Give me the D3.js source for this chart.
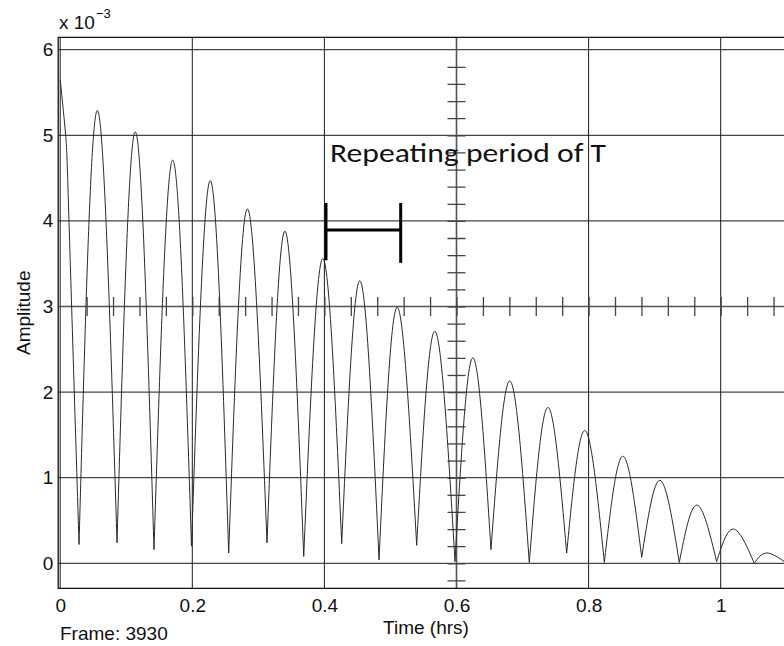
<!DOCTYPE html>
<html>
<head>
<meta charset="utf-8">
<script src="https://cdn.jsdelivr.net/npm/d3@7"></script>
<style>
  body { margin: 0; background: #fff; }
  svg text { font-family: "Liberation Sans", Arial, sans-serif; fill: #111; }
</style>
</head>
<body>
<svg id="chart" width="784" height="646"></svg>
<script>
// values (time in hrs, amplitude in units of 1e-3)
var startTimes = [0, 0.0083, 0.0133];
var startAmps = [5.65, 5.0, 4.0];
var valleyTimes = [0.0285, 0.0860, 0.1420, 0.1988, 0.2551, 0.3131, 0.3687, 0.4262, 0.4827, 0.5397,
  0.5977, 0.6522, 0.7102, 0.7668, 0.8238, 0.8804, 0.9373, 0.9939, 1.0509];
var valleyAmps = [0.22, 0.24, 0.16, 0.20, 0.12, 0.24, 0.08, 0.23, 0.04, 0.21,
  0.02, 0.16, 0.01, 0.12, 0.01, 0.07, 0.01, 0.02, 0.0];
var peakTimes = [0.0562, 0.1137, 0.1703, 0.2273, 0.2833, 0.3404, 0.3974, 0.4539, 0.5099, 0.5675,
  0.6245, 0.6810, 0.7381, 0.7945, 0.8516, 0.9081, 0.9637, 1.0191, 1.0697];
var peakAmps = [5.29, 5.04, 4.71, 4.47, 4.14, 3.88, 3.56, 3.30, 2.99, 2.71,
  2.40, 2.13, 1.82, 1.55, 1.25, 0.97, 0.68, 0.40, 0.12];
var endTime = 1.1, endAmp = 0.0;

var xTicks = [0, 0.2, 0.4, 0.6, 0.8, 1];
var yTicks = [0, 1, 2, 3, 4, 5, 6];
var minorXTicks = d3.range(1, 28).map(function (i) { return +(i * 0.04).toFixed(2); });
var minorYTicks = d3.range(-1, 30).map(function (i) { return +(i * 0.2).toFixed(1); });

var svg = d3.select("#chart");
svg.append("rect").attr("width", 784).attr("height", 646).attr("fill", "#fff");

var x = d3.scaleLinear().domain([0, 1.1]).range([60.2, 60.2 + 1.1 * 660.5]);
var y = d3.scaleLinear().domain([0, 6]).range([563.3, 49.7]);

var plotLeft = x(-0.003), plotRight = 794, plotTop = y(6.145), plotBottom = y(-0.292);

svg.append("clipPath").attr("id", "plotClip")
  .append("rect")
  .attr("x", plotLeft).attr("y", plotTop)
  .attr("width", plotRight - plotLeft).attr("height", plotBottom - plotTop);

// grid
var grid = svg.append("g").attr("clip-path", "url(#plotClip)");
grid.selectAll("line.gx")
  .data(xTicks)
  .enter()
  .append("line")
  .attr("class", "gx")
  .attr("x1", function (d) { return x(d); })
  .attr("x2", function (d) { return x(d); })
  .attr("y1", plotTop).attr("y2", plotBottom)
  .attr("stroke", "#1a1a1a").attr("stroke-width", 1);
grid.selectAll("line.gy")
  .data(yTicks)
  .enter()
  .append("line")
  .attr("class", "gy")
  .attr("x1", plotLeft).attr("x2", plotRight)
  .attr("y1", function (d) { return y(d); })
  .attr("y2", function (d) { return y(d); })
  .attr("stroke", "#1a1a1a").attr("stroke-width", 1);

// crosshair through (0.6, 3) with minor ticks
var cross = svg.append("g").attr("clip-path", "url(#plotClip)");
cross.append("line")
  .attr("x1", x(0.6)).attr("x2", x(0.6)).attr("y1", plotTop).attr("y2", plotBottom)
  .attr("stroke", "#555").attr("stroke-width", 1.6);
cross.append("line")
  .attr("x1", plotLeft).attr("x2", plotRight).attr("y1", y(3)).attr("y2", y(3))
  .attr("stroke", "#555").attr("stroke-width", 1.6);

cross.append("g")
  .attr("transform", "translate(0," + (y(3) - 9.5) + ")")
  .call(d3.axisBottom(x).tickValues(minorXTicks).tickSize(19).tickFormat(""));
cross.append("g")
  .attr("transform", "translate(" + (x(0.6) - 9) + ",0)")
  .call(d3.axisRight(y).tickValues(minorYTicks).tickSize(18).tickFormat(""));
cross.selectAll(".domain").remove();
cross.selectAll(".tick line").attr("stroke", "#444").attr("stroke-width", 1.3);

// the signal, one hump at a time so the valleys stay sharp
var line = d3.line()
  .x(function (d) { return x(d[0]); })
  .y(function (d) { return y(d[1]); })
  .curve(d3.curveNatural);

var humps = [];
var first = startTimes.map(function (t, i) { return [t, startAmps[i]]; });
first.push([valleyTimes[0], valleyAmps[0]]);
humps.push(first);
for (var i = 0; i < peakTimes.length; i++) {
  var next = i + 1 < valleyTimes.length ? [valleyTimes[i + 1], valleyAmps[i + 1]] : [endTime, endAmp];
  humps.push([[valleyTimes[i], valleyAmps[i]], [peakTimes[i], peakAmps[i]], next]);
}

svg.append("g").attr("clip-path", "url(#plotClip)")
  .selectAll("path")
  .data(humps)
  .enter()
  .append("path")
  .attr("d", line)
  .attr("fill", "none")
  .attr("stroke", "#2a2a2a")
  .attr("stroke-width", 1);

// frame
svg.append("path")
  .attr("d", "M" + plotRight + "," + plotTop + "H" + plotLeft + "V" + plotBottom + "H" + plotRight)
  .attr("fill", "none").attr("stroke", "#111").attr("stroke-width", 1.3);

// tick labels
var yAxis = svg.append("g")
  .attr("transform", "translate(" + plotLeft + ",0)")
  .call(d3.axisLeft(y).tickValues(yTicks).tickSize(0).tickPadding(5).tickFormat(d3.format("~g")));
var xAxis = svg.append("g")
  .attr("transform", "translate(0," + plotBottom + ")")
  .call(d3.axisBottom(x).tickValues(xTicks).tickSize(0).tickPadding(10).tickFormat(d3.format("~g")));
yAxis.select(".domain").remove();
xAxis.select(".domain").remove();
yAxis.attr("font-size", 19).attr("font-family", "Liberation Sans, Arial, sans-serif");
xAxis.attr("font-size", 19).attr("font-family", "Liberation Sans, Arial, sans-serif");
yAxis.selectAll("text").attr("fill", "#111");
xAxis.selectAll("text").attr("fill", "#111");

// exponent
var expo = svg.append("text").attr("x", 59).attr("y", 29).attr("font-size", 19);
expo.append("tspan").text("x 10");
expo.append("tspan").attr("dy", -11).attr("dx", 1).attr("font-size", 13).text("\u22123");

// axis titles
svg.append("text")
  .attr("transform", "translate(29.5," + ((plotTop + plotBottom) / 2) + ") rotate(-90)")
  .attr("text-anchor", "middle")
  .attr("font-size", 19)
  .text("Amplitude");
svg.append("text")
  .attr("x", 426).attr("y", 634)
  .attr("text-anchor", "middle")
  .attr("font-size", 19)
  .text("Time (hrs)");
svg.append("text")
  .attr("x", 60).attr("y", 640)
  .attr("font-size", 19)
  .text("Frame: 3930");

// annotation: one period T
var periodStart = 0.4024, periodEnd = 0.5155;
var ann = svg.append("g").attr("stroke", "#000").attr("stroke-width", 3).attr("fill", "none");
ann.append("line")
  .attr("x1", x(periodStart)).attr("x2", x(periodStart)).attr("y1", y(4.21)).attr("y2", y(3.54));
ann.append("line")
  .attr("x1", x(periodEnd)).attr("x2", x(periodEnd)).attr("y1", y(4.21)).attr("y2", y(3.51));
ann.append("line")
  .attr("x1", x(periodStart)).attr("x2", x(periodEnd)).attr("y1", y(3.895)).attr("y2", y(3.895));

svg.append("text")
  .attr("x", x(0.4085)).attr("y", 161.7)
  .attr("font-size", 27)
  .attr("textLength", 276)
  .attr("lengthAdjust", "spacingAndGlyphs")
  .style("font-family", "Carlito, Calibri, Lato, 'Open Sans', sans-serif")
  .attr("fill", "#000")
  .text("Repeating period of T");
</script>
</body>
</html>
